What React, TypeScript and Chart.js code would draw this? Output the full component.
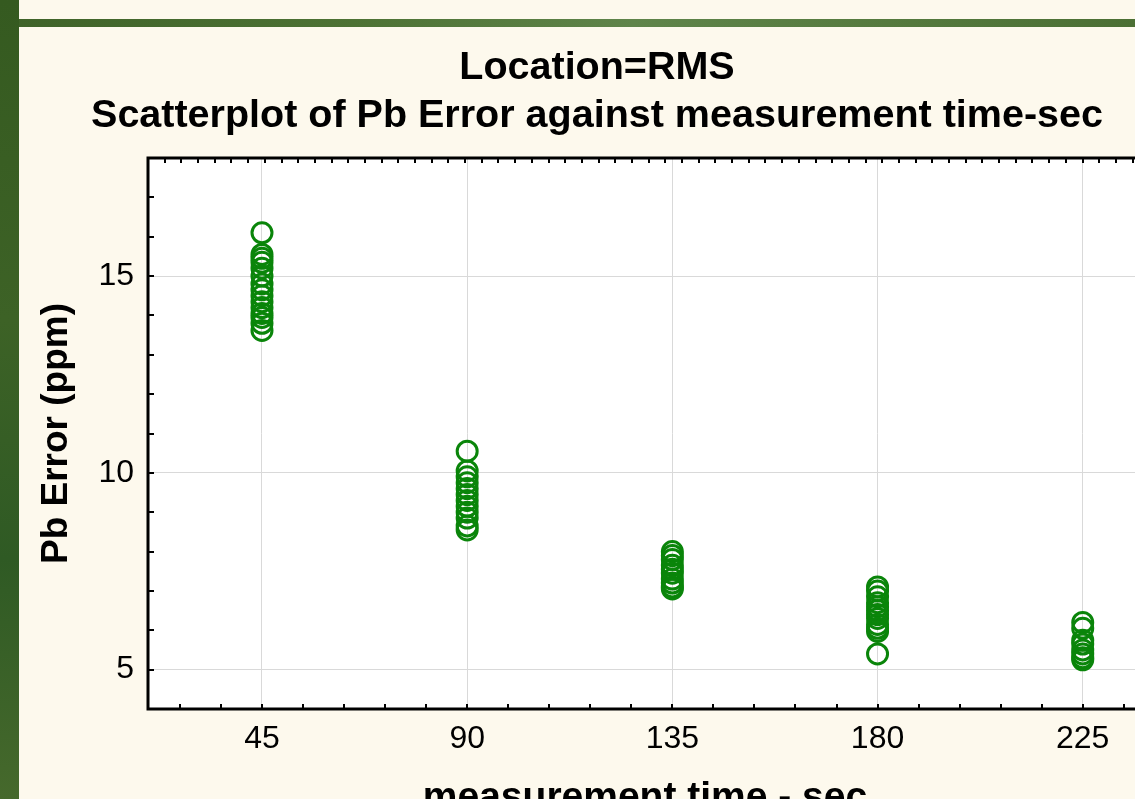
import React, { useEffect, useRef } from 'react';
import { Chart, registerables } from 'chart.js';

Chart.register(...registerables);

// ---- data ----
const times = [45, 90, 135, 180, 225];
const pbError45 = [16.1, 15.55, 15.45, 15.35, 15.2, 15.0, 14.8, 14.65, 14.5, 14.35, 14.2, 14.05, 13.95, 13.8, 13.62];
const pbError90 = [10.55, 10.05, 9.9, 9.75, 9.6, 9.45, 9.3, 9.15, 9.0, 8.85, 8.65, 8.55];
const pbError135 = [8.0, 7.9, 7.8, 7.65, 7.55, 7.45, 7.3, 7.2, 7.1, 7.05];
const pbError180 = [7.1, 7.0, 6.85, 6.7, 6.6, 6.5, 6.4, 6.3, 6.15, 6.05, 5.97, 5.4];
const pbError225 = [6.2, 6.05, 5.75, 5.65, 5.5, 5.4, 5.3, 5.25];
const groups = [pbError45, pbError90, pbError135, pbError180, pbError225];

const xTickLabels = [45, 90, 135, 180, 225];
const yTickLabels = [5, 10, 15];
const xMinorStep = 9;
const yMinorStep = 1;
const topMinorStep = 3.66;
const X_MIN = 20;
const X_MAX = 238;
const Y_MIN = 4;
const Y_MAX = 18;

const titleLines = ['Location=RMS', 'Scatterplot of Pb Error against measurement time-sec'];
const xTitle = 'measurement time - sec';
const yTitle = 'Pb Error (ppm)';

const FONT = "'Liberation Sans', Arial, Helvetica, sans-serif";
const GREEN = '#0a850a';
const CREAM = '#fdf9ed';

const framePlugin = {
  id: 'frame',
  beforeDraw(chart: any) {
    const { ctx, chartArea: a } = chart;
    ctx.save();
    ctx.fillStyle = '#ffffff';
    ctx.fillRect(a.left, a.top, a.right - a.left, a.bottom - a.top);
    ctx.restore();
  },
  afterDraw(chart: any) {
    const { ctx, chartArea: a, scales } = chart;
    const xs = scales.x;
    const ys = scales.y;
    ctx.save();
    ctx.strokeStyle = '#000';
    ctx.lineWidth = 2;
    ctx.beginPath();
    const xVals: number[] = [];
    for (let v = xTickLabels[0]; v > X_MIN; v -= xMinorStep) xVals.push(v);
    for (let v = xTickLabels[0] + xMinorStep; v < X_MAX; v += xMinorStep) xVals.push(v);
    xVals.forEach((v) => {
      const px = Math.round(xs.getPixelForValue(v));
      ctx.moveTo(px, a.bottom);
      ctx.lineTo(px, a.bottom - 5);
    });
    for (let k = 1; X_MIN + k * topMinorStep < X_MAX; k++) {
      const px = Math.round(xs.getPixelForValue(X_MIN + k * topMinorStep));
      ctx.moveTo(px, a.top);
      ctx.lineTo(px, a.top + 5);
    }
    for (let v = Y_MIN + yMinorStep; v < Y_MAX; v += yMinorStep) {
      const py = Math.round(ys.getPixelForValue(v));
      ctx.moveTo(a.left, py);
      ctx.lineTo(a.left + 6, py);
    }
    ctx.stroke();
    ctx.lineWidth = 3;
    ctx.beginPath();
    ctx.moveTo(a.right, a.top);
    ctx.lineTo(a.left, a.top);
    ctx.lineTo(a.left, a.bottom);
    ctx.lineTo(a.right, a.bottom);
    ctx.stroke();
    ctx.restore();
  },
};

export default function App() {
  const ref = useRef<HTMLCanvasElement>(null);

  useEffect(() => {
    const canvas = ref.current;
    if (!canvas) return;
    const data = times.flatMap((t, i) => groups[i].map((y) => ({ x: t, y })));
    const chart = new Chart(canvas, {
      type: 'scatter',
      data: {
        datasets: [
          {
            data,
            pointStyle: 'circle',
            pointRadius: 10,
            pointHoverRadius: 10,
            borderWidth: 3,
            borderColor: GREEN,
            backgroundColor: 'rgba(0,0,0,0)',
            showLine: false,
          } as any,
        ],
      },
      options: {
        animation: false,
        responsive: false,
        maintainAspectRatio: false,
        layout: { padding: 0 },
        plugins: {
          legend: { display: false },
          tooltip: { enabled: false },
          title: {
            display: true,
            text: titleLines,
            color: '#000',
            font: { family: FONT, size: 39.5, weight: 'bold', lineHeight: 48 / 39.5 },
            padding: { top: 17, bottom: 18 },
          },
        },
        scales: {
          x: {
            type: 'linear',
            position: 'bottom',
            min: X_MIN,
            max: X_MAX,
            afterBuildTicks: (s: any) => {
              s.ticks = xTickLabels.map((v) => ({ value: v }));
            },
            afterFit: (s: any) => {
              s.height = 120;
            },
            grid: { color: '#d9d9d9', lineWidth: 1, drawTicks: false },
            border: { display: false },
            ticks: {
              autoSkip: false,
              maxRotation: 0,
              color: '#000',
              font: { family: FONT, size: 32 },
              padding: 11,
              callback: (v: any) => String(v),
            },
            title: {
              display: true,
              text: xTitle,
              color: '#000',
              font: { family: FONT, size: 39, weight: 'bold' },
              padding: { top: 0, bottom: 7 },
            },
          },
          y: {
            type: 'linear',
            position: 'left',
            min: Y_MIN,
            max: Y_MAX,
            afterBuildTicks: (s: any) => {
              s.ticks = yTickLabels.map((v) => ({ value: v }));
            },
            afterFit: (s: any) => {
              s.width = 129;
            },
            grid: { color: '#d9d9d9', lineWidth: 1, drawTicks: false },
            border: { display: false },
            ticks: {
              autoSkip: false,
              color: '#000',
              font: { family: FONT, size: 32 },
              padding: 14,
              callback: (v: any) => String(v),
            },
            title: {
              display: true,
              text: yTitle,
              color: '#000',
              font: { family: FONT, size: 37, weight: 'bold' },
              padding: { top: 16, bottom: 0 },
            },
          },
          y2: {
            type: 'linear',
            position: 'right',
            display: true,
            grid: { display: false },
            border: { display: false },
            ticks: { display: false },
            afterFit: (s: any) => {
              s.width = 33;
            },
          },
        },
      } as any,
      plugins: [framePlugin],
    });
    return () => chart.destroy();
  }, []);

  return (
    <div
      style={{
        position: 'fixed',
        left: 0,
        top: 0,
        width: 1135,
        height: 799,
        overflow: 'hidden',
        background: CREAM,
      }}
    >
      <div
        style={{
          position: 'absolute',
          left: 0,
          top: 0,
          width: 19,
          height: 799,
          background: 'linear-gradient(180deg, #355a20 0%, #3d6226 40%, #2f5a24 70%, #46692c 100%)',
        }}
      />
      <div
        style={{
          position: 'absolute',
          left: 19,
          top: 19,
          width: 1116,
          height: 8,
          background: 'linear-gradient(90deg, #3f6329 0%, #4d7234 30%, #5f844a 55%, #54793d 80%, #4b6f34 100%)',
        }}
      />
      <canvas
        ref={ref}
        width={1156}
        height={802}
        style={{ position: 'absolute', left: 19, top: 27, width: 1156, height: 802, display: 'block', background: CREAM }}
      />
    </div>
  );
}
